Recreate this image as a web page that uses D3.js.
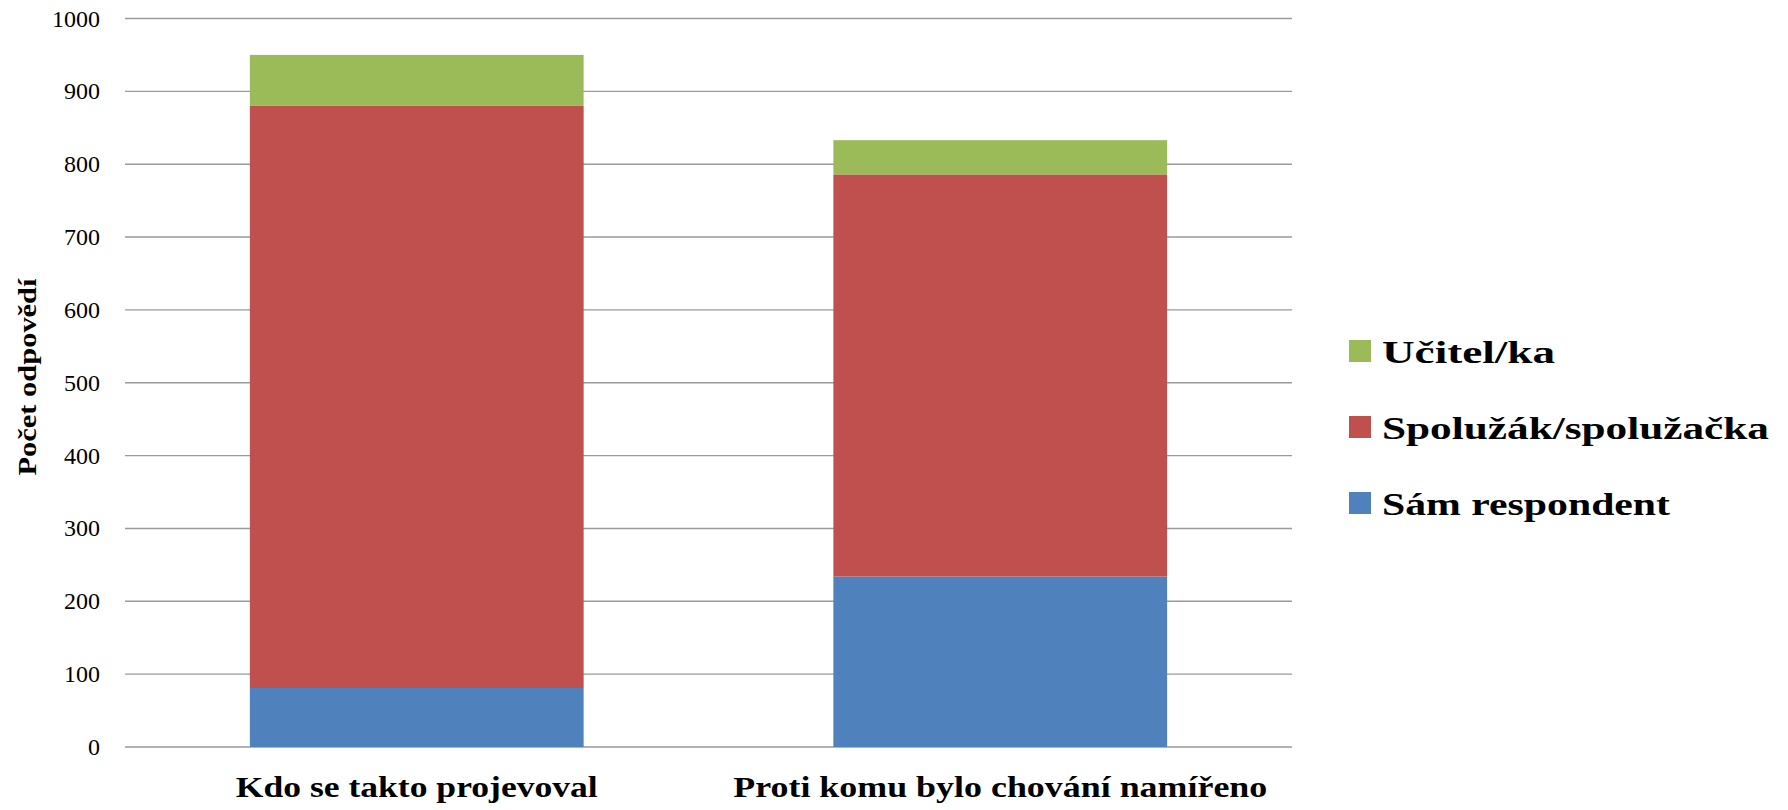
<!DOCTYPE html>
<html>
<head>
<meta charset="utf-8">
<script src="https://cdn.jsdelivr.net/npm/d3@7"></script>
<style>
  html, body { margin: 0; padding: 0; background: #fff; }
  svg text { font-family: "Liberation Serif", "Times New Roman", serif; }
</style>
</head>
<body>
<svg id="chart" width="1788" height="810"></svg>
<script>
const categories = ["Kdo se takto projevoval", "Proti komu bylo chování namířeno"];
const seriesNames = ["Sám respondent", "Spolužák/spolužačka", "Učitel/ka"];
const samRespondent = [81, 234];
const spoluzak = [799, 552];
const ucitel = [70, 47];
const yTicks = [0, 100, 200, 300, 400, 500, 600, 700, 800, 900, 1000];
const colors = ["#4F81BD", "#C0504D", "#9BBB59"];

// text widths (styling) to mimic the wide Garamond face of the original
const catLabelWidth = { "Kdo se takto projevoval": 362, "Proti komu bylo chování namířeno": 534 };
const legendLabelWidth = { "Učitel/ka": 173, "Spolužák/spolužačka": 387, "Sám respondent": 288 };

const rows = categories.map((c, i) => ({
  cat: c,
  "Sám respondent": samRespondent[i],
  "Spolužák/spolužačka": spoluzak[i],
  "Učitel/ka": ucitel[i]
}));

const svg = d3.select("#chart");
const mLeft = 125, mRight = 1292, mTop = 18.5, mBottom = 747;

const x = d3.scaleBand().domain(categories).range([mLeft, mRight])
  .paddingInner(0.428).paddingOuter(0.214);
const y = d3.scaleLinear().domain([0, 1000]).range([mBottom, mTop]);

// gridlines
svg.append("g").selectAll("line").data(yTicks).join("line")
  .attr("x1", mLeft).attr("x2", mRight)
  .attr("y1", d => y(d)).attr("y2", d => y(d))
  .attr("stroke", "#9a9a9a").attr("stroke-width", 1.4);

// y tick labels
svg.append("g").selectAll("text").data(yTicks).join("text")
  .attr("x", 100).attr("y", d => y(d))
  .attr("text-anchor", "end").attr("dominant-baseline", "central")
  .attr("font-size", 24).attr("fill", "#000")
  .text(d => d);

// stacked bars
const stack = d3.stack().keys(seriesNames);
const stacked = stack(rows);
svg.append("g").selectAll("g").data(stacked).join("g")
  .attr("fill", (d, i) => colors[i])
  .selectAll("rect").data(d => d).join("rect")
  .attr("x", d => x(d.data.cat))
  .attr("width", x.bandwidth())
  .attr("y", d => y(d[1]))
  .attr("height", d => y(d[0]) - y(d[1]));

// category labels
svg.append("g").selectAll("text").data(categories).join("text")
  .attr("x", d => x(d) + x.bandwidth() / 2).attr("y", 797)
  .attr("text-anchor", "middle").attr("font-weight", "bold")
  .attr("font-size", 29).attr("fill", "#000")
  .attr("textLength", d => catLabelWidth[d]).attr("lengthAdjust", "spacingAndGlyphs")
  .text(d => d);

// y axis title
svg.append("text")
  .attr("transform", "translate(36,377) rotate(-90)")
  .attr("text-anchor", "middle").attr("font-weight", "bold")
  .attr("font-size", 25).attr("fill", "#000")
  .attr("textLength", 197).attr("lengthAdjust", "spacingAndGlyphs")
  .text("Počet odpovědí");

// legend (reverse order: top = Učitel/ka)
const legendItems = seriesNames.map((n, i) => ({ name: n, color: colors[i] })).reverse();
const lg = svg.append("g").selectAll("g").data(legendItems).join("g")
  .attr("transform", (d, i) => `translate(1349,${340 + i * 76})`);
lg.append("rect").attr("width", 22).attr("height", 22).attr("fill", d => d.color);
lg.append("text").attr("x", 33).attr("y", 23)
  .attr("font-weight", "bold").attr("font-size", 31).attr("fill", "#000")
  .attr("textLength", d => legendLabelWidth[d.name]).attr("lengthAdjust", "spacingAndGlyphs")
  .text(d => d.name);
</script>
</body>
</html>
